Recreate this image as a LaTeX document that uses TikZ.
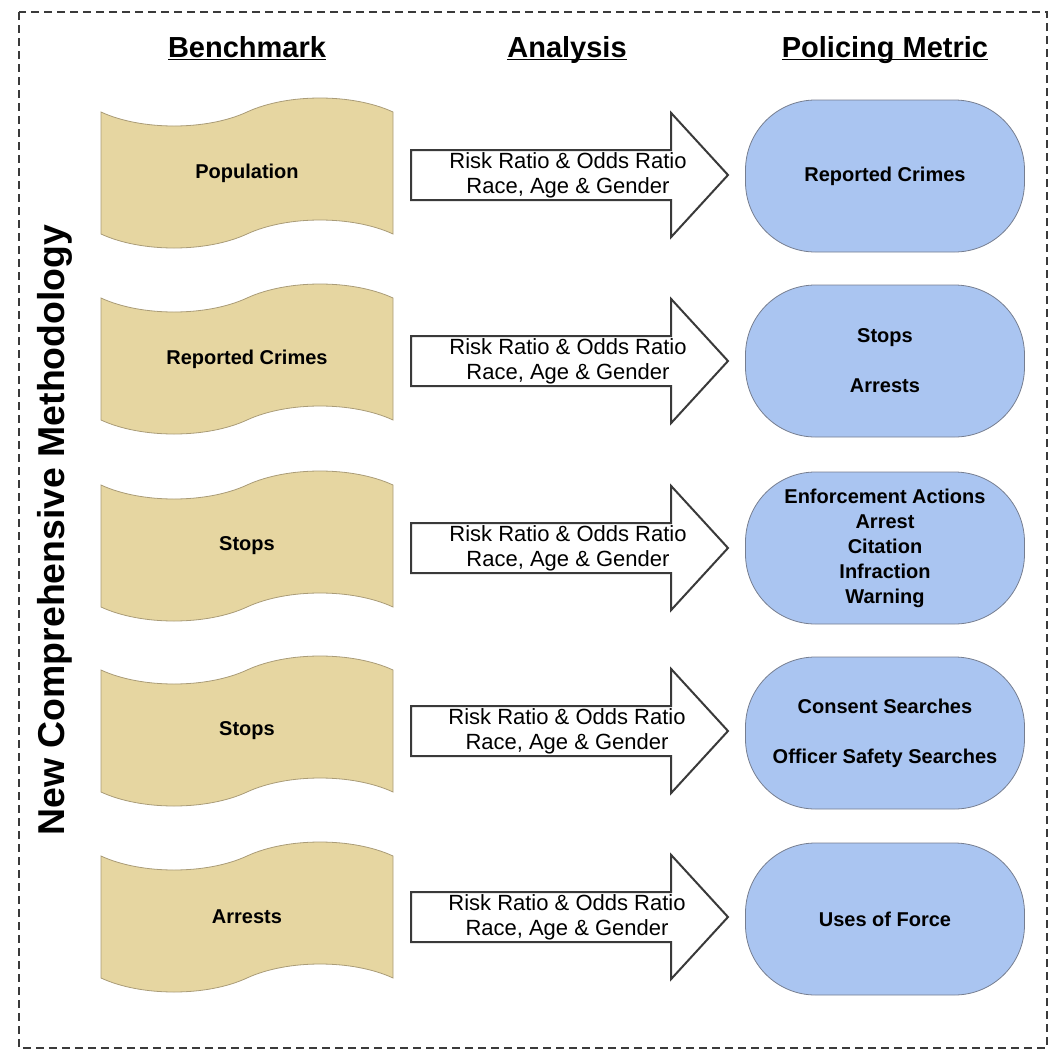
\documentclass[tikz,border=0pt]{standalone}
\usepackage{fontspec}
\setmainfont{Liberation Sans}
\usetikzlibrary{shapes.symbols,shapes.arrows}
\definecolor{benchtan}{RGB}{230,214,161}
\definecolor{benchedge}{RGB}{170,156,120}
\definecolor{metricblue}{RGB}{170,197,241}
\definecolor{metricedge}{RGB}{118,126,144}
\definecolor{inkgray}{RGB}{58,58,58}
\newcommand{\headline}[1]{\underline{\raisebox{0pt}[\height][0pt]{#1}}}

\begin{document}
\begin{tikzpicture}[x=0.5pt,y=-0.5pt,
  head/.style={anchor=base,font=\bfseries\fontsize{14.5}{17}\selectfont},
  bench/.style={tape,tape bend top=in and out,tape bend bottom=in and out,tape bend height=14pt,
    draw=benchedge,fill=benchtan,minimum width=146pt,minimum height=75pt,inner sep=0pt,
    font=\bfseries\fontsize{10}{12.5}\selectfont},
  blockarr/.style={single arrow,draw=inkgray,line width=1pt,fill=white,single arrow head extend=18.5pt,
    single arrow tip angle=95,single arrow head indent=0pt,inner xsep=0pt,inner ysep=12pt,
    minimum height=158.5pt,anchor=tail},
  arrtext/.style={align=center,inner sep=0pt,font=\fontsize{11}{12.5}\selectfont},
  metric/.style={draw=metricedge,fill=metricblue,rounded corners=35pt,minimum width=139.5pt,
    minimum height=76pt,align=center,font=\bfseries\fontsize{10}{12.5}\selectfont}
]
\useasboundingbox (0,0) rectangle (1050,1051);
\draw[inkgray,line width=1pt,dash pattern=on 4pt off 2.5pt] (19,12) rectangle (1047,1048);

% column headings
\node[head] (hbench) at (247,57) {\headline{Benchmark}};
\node[head] (hanalysis) at (567,57) {\headline{Analysis}};
\node[head] (hmetric) at (885,57) {\headline{Policing Metric}};
\node[rotate=90,font=\bfseries\fontsize{18.7}{22}\selectfont] (method) at (55,530) {New Comprehensive Methodology};

% benchmarks
\node[bench] (bpop) at (247,173) {Population};
\node[bench] (bcrime) at (247,359) {Reported Crimes};
\node[bench] (bstops) at (247,546) {Stops};
\node[bench] (bstops2) at (247,731) {Stops};
\node[bench] (barrest) at (247,917) {Arrests};

% analysis arrows
\node[blockarr] (apop) at (410,175) {};
\node[blockarr] (acrime) at (410,361) {};
\node[blockarr] (astops) at (410,548) {};
\node[blockarr] (astops2) at (410,731) {};
\node[blockarr] (aarrest) at (410,917) {};
\node[arrtext] (tpop) at (568,175) {Risk Ratio \& Odds Ratio\\Race, Age \& Gender};
\node[arrtext] (tcrime) at (568,361) {Risk Ratio \& Odds Ratio\\Race, Age \& Gender};
\node[arrtext] (tstops) at (568,548) {Risk Ratio \& Odds Ratio\\Race, Age \& Gender};
\node[arrtext] (tstops2) at (567,731) {Risk Ratio \& Odds Ratio\\Race, Age \& Gender};
\node[arrtext] (tarrest) at (567,917) {Risk Ratio \& Odds Ratio\\Race, Age \& Gender};

% policing metrics
\node[metric] (mcrime) at (885,176) {Reported Crimes};
\node[metric] (mstops) at (885,361) {Stops\\[12.5pt]Arrests};
\node[metric] (menforce) at (885,548) {Enforcement Actions\\Arrest\\Citation\\Infraction\\Warning};
\node[metric] (msearch) at (885,733) {Consent Searches\\[12.5pt]Officer Safety Searches};
\node[metric] (mforce) at (885,919) {Uses of Force};
\end{tikzpicture}
\end{document}
